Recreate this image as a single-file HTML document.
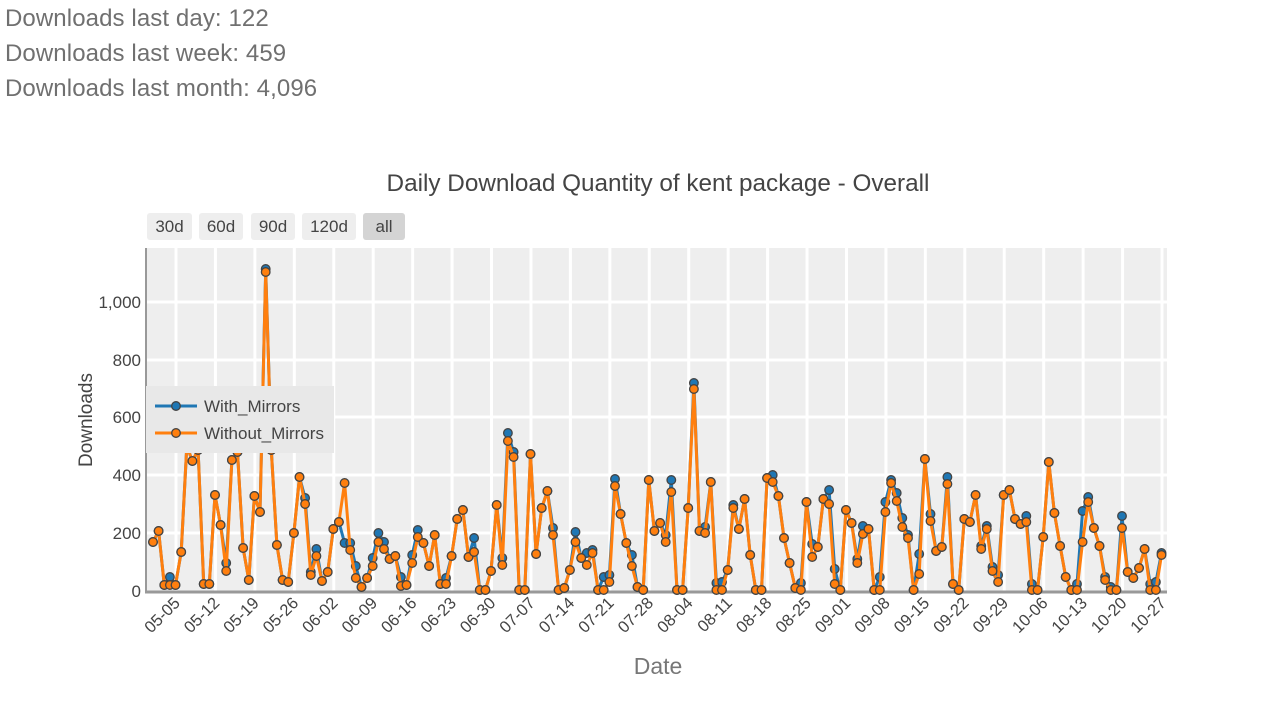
<!DOCTYPE html>
<html><head><meta charset="utf-8"><style>
body{margin:0;background:#fff;width:1280px;height:722px;overflow:hidden;font-family:"Liberation Sans",sans-serif}
.h{position:absolute;left:5px;font-size:24px;color:#707070;font-family:"Liberation Sans",sans-serif;letter-spacing:0.1px}
</style></head><body>
<div class="h" style="top:5px">Downloads last day: 122</div>
<div class="h" style="top:40px">Downloads last week: 459</div>
<div class="h" style="top:75px">Downloads last month: 4,096</div>
<svg id="s" width="1280" height="722" style="position:absolute;left:0;top:0"></svg>
<script>
var o=[542,531,585,585,585,552,446,461,450,584,584,495,525,571,460,452,548,580,496,512,272,450,545,580,582,533,477,504,575,556,581,572,529,522,483,550,578,587,578,566,542,549,559,556,586,
585,563,537,543,566,535,584,584,556,519,510,557,552,590,590,571,505,565,441,457,590,590,454,554,508,491,535,590,588,570,542,558,565,553,590,590,582,486,514,543,566,587,590,480,531,
523,542,492,590,590,508,389,531,533,482,590,590,570,508,529,499,555,590,590,478,482,496,538,563,588,590,502,557,547,499,504,584,590,510,523,563,534,529,590,590,512,483,501,527,538,
590,574,459,521,551,547,484,584,590,519,522,495,549,529,571,582,495,490,519,524,522,590,590,537,462,513,546,577,590,590,542,502,528,546,580,590,590,528,572,578,568,549,590,590,555];
var b=o.slice();
var ov={3:577,13:563,20:269,27:498,28:572,29:549,34:543,35:543,36:566,39:558,40:533,41:542,44:577,46:555,47:530,52:578,57:538,62:558,63:433,64:452,71:528,75:532,77:553,78:550,80:577,81:575,82:479,85:555,
91:535,92:480,96:383,98:527,100:583,101:582,103:505,110:475,115:583,117:544,120:490,121:569,125:559,126:526,129:577,130:502,131:480,132:493,133:518,134:535,136:554,138:514,141:477,147:546,148:526,149:567,150:575,155:516,156:584,164:584,165:511,166:497,169:577,170:587,172:516,177:584,178:582,179:553};
for(var k in ov)b[k]=ov[k];
var X=function(i){return 153+i*5.634};
var s='';
s+='<text x="658" y="191" text-anchor="middle" font-size="24.3" fill="#444">Daily Download Quantity of kent package - Overall</text>';
var btn=[[147,45,'30d'],[199,44,'60d'],[251,44,'90d'],[302,54,'120d'],[363,42,'all']];
btn.forEach(function(q,i){s+='<rect x="'+q[0]+'" y="213" width="'+q[1]+'" height="27" rx="3" fill="'+(i==4?'#d4d4d4':'#eeeeee')+'"/><text x="'+(q[0]+q[1]/2)+'" y="232" text-anchor="middle" font-size="17" fill="#444">'+q[2]+'</text>';});
s+='<rect x="146" y="248" width="1021" height="344" fill="#eeeeee"/>';
var lab=['05-05','05-12','05-19','05-26','06-02','06-09','06-16','06-23','06-30','07-07','07-14','07-21','07-28','08-04','08-11','08-18','08-25','09-01','09-08','09-15','09-22','09-29','10-06','10-13','10-20','10-27'];
for(var i=0;i<26;i++){var x=176+i*39.44;s+='<line x1="'+x+'" y1="248" x2="'+x+'" y2="592" stroke="#fff" stroke-width="3"/>';
s+='<text transform="translate('+(x+5)+',604) rotate(-45)" text-anchor="end" font-size="16.5" fill="#444">'+lab[i]+'</text>';}
var yt=[[0,591],[200,533],[400,475],[600,417],[800,360],[1000,302]];
yt.forEach(function(t){if(t[0]>0)s+='<line x1="146" y1="'+t[1]+'" x2="1167" y2="'+t[1]+'" stroke="#fff" stroke-width="3"/>';
s+='<text x="141" y="'+(t[1]+6)+'" text-anchor="end" font-size="17" fill="#444">'+(t[0]==1000?'1,000':t[0])+'</text>';});
s+='<line x1="146" y1="248" x2="146" y2="593" stroke="#999" stroke-width="2"/><line x1="145" y1="592" x2="1167" y2="592" stroke="#999" stroke-width="3"/>';
function ser(a,c){var p=a.map(function(y,i){return X(i).toFixed(1)+','+y}).join(' ');
var r='<polyline points="'+p+'" fill="none" stroke="'+c+'" stroke-width="3" stroke-linejoin="round"/>';
a.forEach(function(y,i){r+='<circle cx="'+X(i).toFixed(1)+'" cy="'+y+'" r="4.3" fill="'+c+'" stroke="#444" stroke-width="1.3"/>';});return r;}
s+=ser(b,'#1f77b4');s+=ser(o,'#ff7f0e');
s+='<rect x="146" y="386" width="188" height="67" fill="#e8e8e8"/>';
s+='<line x1="155" y1="406" x2="197" y2="406" stroke="#1f77b4" stroke-width="3"/><circle cx="176" cy="406" r="4.3" fill="#1f77b4" stroke="#444" stroke-width="1.3"/><text x="204" y="412" font-size="17" fill="#444">With_Mirrors</text>';
s+='<line x1="155" y1="433" x2="197" y2="433" stroke="#ff7f0e" stroke-width="3"/><circle cx="176" cy="433" r="4.3" fill="#ff7f0e" stroke="#444" stroke-width="1.3"/><text x="204" y="439" font-size="17" fill="#444">Without_Mirrors</text>';
s+='<text transform="translate(92,420) rotate(-90)" text-anchor="middle" font-size="19" fill="#444">Downloads</text>';
s+='<text x="658" y="674" text-anchor="middle" font-size="23" fill="#777">Date</text>';
document.getElementById('s').innerHTML=s;
</script>
</body></html>
